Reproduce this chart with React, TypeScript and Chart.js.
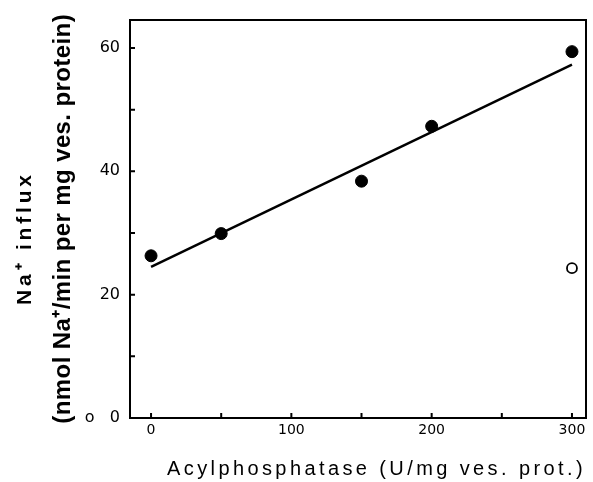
import React, { useEffect, useRef } from "react";
import { Chart, registerables } from "chart.js";

Chart.register(...registerables);

// Data
const filledX = [0, 50, 150, 200, 300];
const filledY = [26.3, 29.9, 38.4, 47.3, 59.4];
const openX = [300];
const openY = [24.3];
const fitX = [0, 300];
const fitY = [24.5, 57.3];

const xTickLabels = [0, 100, 200, 300];
const yTickLabels = [0, 20, 40, 60];

const xTitle = "Acylphosphatase (U/mg ves. prot.)";
const yTitleOuter = "Na\u207A influx\u00A0\u00A0\u00A0\u00A0";
const yTitleInner = "(nmol Na\u207A/min per mg ves. protein)";
const strayZeroMark = "o";

const SANS = "'Liberation Sans', Arial, Helvetica, sans-serif";
const DEJAVU = "'DejaVu Sans', sans-serif";

const titleSpacing: Record<string, string> = { x: "3.4px", y: "0.4px", yOuter: "3.8px" };

const spacingPlugin = {
  id: "titleSpacing",
  beforeDraw(chart: any) {
    for (const id of Object.keys(titleSpacing)) {
      const s: any = chart.scales[id];
      if (s && !s.__patched) {
        const orig = s.drawTitle.bind(s);
        s.drawTitle = function () {
          const ctx = this.ctx;
          ctx.save();
          ctx.letterSpacing = titleSpacing[id];
          orig();
          ctx.restore();
        };
        s.__patched = true;
      }
    }
  },
};

const inwardTicks = {
  id: "inwardTicks",
  afterDraw(chart: any) {
    const { ctx, chartArea } = chart;
    const xs = chart.scales.x;
    const ys = chart.scales.y;
    ctx.save();
    ctx.strokeStyle = "#000";
    ctx.lineWidth = 2;
    ctx.beginPath();
    for (const t of xs.ticks) {
      const px = xs.getPixelForValue(t.value);
      ctx.moveTo(px, chartArea.bottom);
      ctx.lineTo(px, chartArea.bottom - 5);
    }
    for (const t of ys.ticks) {
      const py = ys.getPixelForValue(t.value);
      ctx.moveTo(chartArea.left, py);
      ctx.lineTo(chartArea.left + 5, py);
    }
    ctx.stroke();
    ctx.restore();
  },
};

export default function App() {
  const ref = useRef<HTMLCanvasElement | null>(null);

  useEffect(() => {
    if (!ref.current) return;
    const chart = new Chart(ref.current, {
      type: "scatter",
      data: {
        datasets: [
          {
            data: fitX.map((x, i) => ({ x, y: fitY[i] })),
            showLine: true,
            borderColor: "#000",
            borderWidth: 2.5,
            pointRadius: 0,
            fill: false,
          },
          {
            data: filledX.map((x, i) => ({ x, y: filledY[i] })),
            showLine: false,
            pointRadius: 6,
            pointBackgroundColor: "#000",
            pointBorderColor: "#000",
            pointBorderWidth: 1,
          },
          {
            data: openX.map((x, i) => ({ x, y: openY[i] })),
            showLine: false,
            pointRadius: 5,
            pointBackgroundColor: "#fff",
            pointBorderColor: "#000",
            pointBorderWidth: 1.8,
          },
        ],
      },
      options: {
        responsive: false,
        animation: false,
        layout: { padding: { left: 0, top: 17, right: 7, bottom: 0 } },
        plugins: { legend: { display: false }, tooltip: { enabled: false } },
        scales: {
          x: {
            type: "linear",
            position: "bottom",
            min: -15,
            max: 310,
            grid: { display: false, drawTicks: false },
            border: { display: true, color: "#000", width: 2 },
            ticks: {
              stepSize: 50,
              includeBounds: false,
              padding: 4,
              color: "#000",
              font: { family: DEJAVU, size: 14 },
              callback: (v: any) => (xTickLabels.includes(Number(v)) ? String(v) : ""),
            },
            title: {
              display: true,
              text: xTitle,
              align: "end",
              color: "#000",
              font: { family: SANS, size: 20 },
              padding: { top: 0, bottom: 1 },
            },
            afterFit: (s: any) => {
              s.height = 64;
            },
          },
          x2: {
            type: "linear",
            position: "top",
            min: -15,
            max: 310,
            grid: { display: false, drawTicks: false },
            border: { display: true, color: "#000", width: 2 },
            ticks: { display: false },
            afterFit: (s: any) => {
              s.height = 0;
            },
          },
          y: {
            type: "linear",
            position: "left",
            min: 0,
            max: 64.6,
            weight: 0,
            grid: { display: false, drawTicks: false },
            border: { display: true, color: "#000", width: 2 },
            ticks: {
              stepSize: 10,
              includeBounds: false,
              padding: 10,
              color: "#000",
              font: { family: DEJAVU, size: 16 },
              callback: (v: any) => {
                const n = Number(v);
                if (n === 0) return strayZeroMark + "   0";
                return yTickLabels.includes(n) ? String(n) : "";
              },
            },
            title: {
              display: true,
              text: yTitleInner,
              color: "#000",
              font: { family: SANS, size: 24, weight: "bold" },
              padding: { top: 9, bottom: 0 },
            },
            afterFit: (s: any) => {
              s.width = 90;
            },
          },
          yOuter: {
            type: "linear",
            position: "left",
            min: 0,
            max: 64.6,
            weight: 1,
            grid: { display: false, drawTicks: false },
            border: { display: false },
            ticks: { display: false },
            title: {
              display: true,
              text: yTitleOuter,
              color: "#000",
              font: { family: SANS, size: 21, weight: "bold" },
              padding: { top: 13, bottom: 0 },
            },
            afterFit: (s: any) => {
              s.width = 40;
            },
          },
          y2: {
            type: "linear",
            position: "right",
            min: 0,
            max: 64.6,
            grid: { display: false, drawTicks: false },
            border: { display: true, color: "#000", width: 2 },
            ticks: { display: false },
            afterFit: (s: any) => {
              s.width = 0;
            },
          },
        },
      } as any,
      plugins: [spacingPlugin, inwardTicks],
    });
    return () => chart.destroy();
  }, []);

  return (
    <div style={{ position: "fixed", left: 0, top: 0, width: 593, height: 482, background: "#fff" }}>
      <canvas ref={ref} width={593} height={482} style={{ display: "block" }} />
    </div>
  );
}
